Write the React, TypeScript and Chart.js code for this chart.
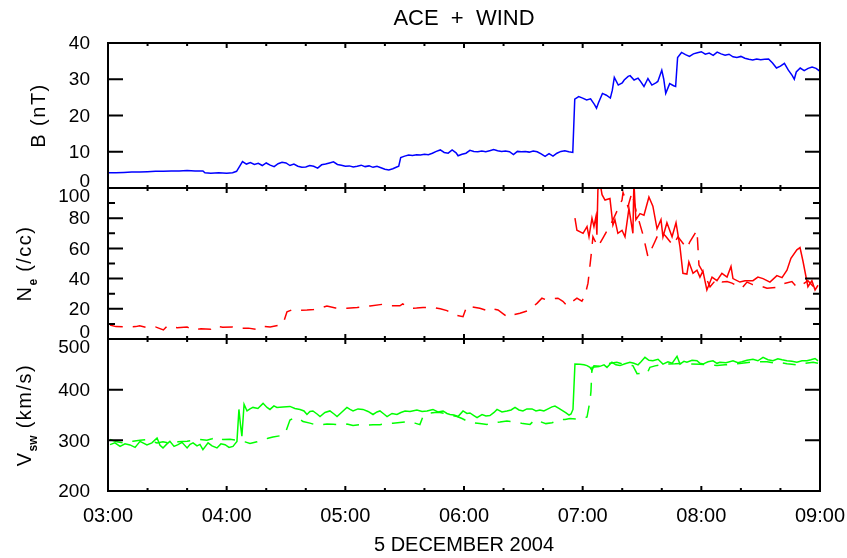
import React, { useEffect, useRef } from 'react';
import { Chart, registerables } from 'chart.js';

Chart.register(...registerables);

const FONT = '"Liberation Sans", Arial, Helvetica, sans-serif';

// Time axis: minutes after 03:00 UT, 5 December 2004
const hourLabels = ['03:00', '04:00', '05:00', '06:00', '07:00', '08:00', '09:00'];
const titleText = 'ACE  +  WIND';
const dateText = '5 DECEMBER 2004';

// B (nT) — [minute, value]
const bReadings: [number, number][] = [
  [0, 4.2], [4, 4.2], [8, 4.3], [12, 4.4], [16, 4.4], [20, 4.5], [24, 4.6], [28, 4.6], [32, 4.7], [36, 4.7],
  [40, 4.8], [44, 4.7], [48, 4.7], [49, 4.2], [52, 4.1], [56, 4.2], [60, 4.1], [63, 4.2], [65, 4.6], [67, 6.4],
  [68, 7.3], [70, 6.6], [72, 7.0], [74, 6.5], [76, 6.8], [78, 6.2], [80, 6.9], [82, 6.3], [84, 5.9], [86, 6.7],
  [88, 7.1], [90, 6.9], [92, 6.2], [94, 6.6], [96, 6.0], [98, 5.7], [100, 5.8], [102, 6.2], [104, 6.0], [106, 5.5],
  [108, 6.4], [110, 6.6], [112, 6.9], [114, 7.2], [116, 6.5], [118, 6.3], [120, 6.0], [122, 6.1], [124, 5.8], [126, 6.0],
  [128, 6.3], [130, 5.9], [132, 6.1], [134, 5.7], [136, 6.0], [138, 5.6], [140, 5.2], [142, 5.0], [144, 5.3], [146, 5.8],
  [147, 6.0], [148, 8.4], [150, 8.8], [152, 9.1], [154, 9.0], [156, 9.2], [158, 9.1], [160, 9.3], [162, 9.2], [164, 9.6],
  [166, 10.1], [168, 10.5], [170, 9.8], [172, 9.6], [174, 10.5], [176, 9.7], [177, 8.9], [179, 9.3], [181, 9.6], [183, 10.4],
  [185, 10.1], [187, 10.0], [189, 10.2], [191, 10.0], [193, 10.3], [195, 10.6], [197, 10.3], [199, 10.1], [201, 10.2], [203, 10.0],
  [205, 9.2], [207, 10.1], [209, 10.0], [211, 10.1], [213, 9.9], [215, 10.2], [217, 10.0], [219, 9.4], [221, 8.7], [223, 9.5],
  [225, 8.8], [227, 9.6], [229, 10.1], [231, 10.3], [233, 10.0], [235, 9.8], [236, 24.5], [238, 25.2], [240, 24.8], [242, 24.3],
  [244, 24.6], [246, 23.0], [247, 22.0], [248, 23.5], [250, 26.1], [252, 25.6], [254, 24.8], [255, 27.0], [256, 30.5], [258, 28.4],
  [260, 29.0], [261, 29.8], [263, 30.8], [264, 31.0], [266, 29.8], [268, 30.3], [269, 29.6], [271, 28.0], [273, 30.2], [275, 28.4],
  [277, 29.0], [278, 29.4], [280, 32.5], [281, 30.0], [282, 26.1], [284, 28.8], [286, 28.2], [287, 28.0], [288, 36.0], [290, 37.4],
  [292, 36.8], [294, 36.3], [296, 37.0], [298, 37.3], [300, 37.6], [302, 36.9], [304, 37.2], [306, 36.6], [308, 37.5], [310, 37.0],
  [312, 36.6], [314, 36.9], [316, 36.2], [318, 36.0], [320, 36.3], [322, 35.8], [324, 35.5], [326, 35.3], [328, 35.6], [330, 35.4],
  [332, 35.5], [334, 35.6], [336, 34.5], [338, 33.1], [340, 33.6], [342, 34.4], [344, 32.5], [346, 31.0], [347, 30.0], [348, 32.0],
  [350, 33.1], [352, 32.4], [354, 33.0], [356, 33.4], [358, 33.0], [360, 32.2],
];

// Ne (/cc), solid trace — [minute, value]
const neSolid: [number, number][] = [
  [236.1, 80], [237.1, 72], [240.2, 70], [242.2, 74.4], [243.2, 67.7], [244.7, 80], [245.7, 74.4], [246.7, 81], [247.2, 69],
  [247.7, 98.7], [248.7, 104], [249.8, 95.6], [251.3, 92], [253.8, 93], [255.3, 75.5], [256.3, 79], [257.8, 70], [259.9, 72],
  [261.4, 67.7], [263.4, 86.5], [265.4, 70], [265.9, 104], [266.9, 79], [269, 83], [271, 82], [273.5, 94], [275.5, 88],
  [277.6, 73], [279.6, 79], [280.6, 67.7], [282.6, 77], [285.2, 67.7], [287.2, 77], [289.2, 61], [290.7, 43.5], [292.7, 43],
  [293.7, 51], [295.8, 43.5], [297.8, 45.6], [299.3, 41], [300.8, 45], [302.8, 32.5], [305.4, 41], [307.9, 38.6], [310.4, 43.5],
  [313, 41], [315, 48], [316, 40], [319.5, 37.7], [322.1, 38.6], [326.1, 38.6], [328.6, 41], [331.2, 40], [334.7, 37.7],
  [338.2, 42], [340.8, 40.6], [343.3, 45.6], [345.3, 53.4], [348.3, 59], [349.9, 60.5], [351.4, 51.5], [353.9, 34.6],
  [355.9, 38.6], [357.5, 32.5], [359, 35.6],
];

// Ne (/cc), dashed trace — [minute, value]
const neDashed: [number, number][] = [
  [1, 9.3], [4, 8.2], [9, 8.0], [14, 8.2], [16, 8.7], [20, 7.5], [24, 8.0], [28, 6.0], [30, 8.7], [35, 7.5],
  [40, 8.0], [42.5, 6.0], [47, 6.8], [52, 6.4], [54, 8.5], [58, 7.8], [63, 8.0], [67, 7.0], [71, 7.2], [75, 6.4],
  [78, 8.5], [82, 8.0], [87, 9.3], [88.5, 10], [90.5, 18], [93.5, 19.6], [97, 19.0], [100.6, 19.2], [104, 19.5], [107, 20.3],
  [110.7, 21.9], [115, 20.5], [120.8, 20.3], [126, 20.8], [132.5, 21.9], [139, 23], [143, 22.0], [147.6, 22], [149, 23.3], [152.7, 20.3],
  [156, 20.5], [159.3, 20.8], [164.3, 21], [168, 20.0], [171.4, 18.8], [175.4, 15.9], [179.5, 14.8], [181.5, 21.9], [185, 21.0], [188, 20.3],
  [191.6, 18.8], [193.6, 20.3], [197.2, 19.2], [200, 16.5], [202.2, 14.4], [205, 16], [208.3, 17], [212.3, 18.8], [216.9, 23.6], [219.4, 27],
  [221.4, 26], [224, 26.5], [227.5, 27], [230, 25], [232.1, 22], [235, 25], [237.1, 27], [239.6, 25], [241.2, 29], [242.7, 37],
  [244.2, 54.5], [245.2, 67.7], [247.7, 61], [250.3, 67], [255, 78], [259.9, 92], [260.4, 97], [262.9, 87.6], [264.9, 97], [267, 85],
  [270.5, 69], [273, 54.5], [276.5, 64.4], [279.1, 72], [282, 68], [285.7, 62], [288.2, 67.7], [292.7, 60], [294.2, 64.4], [297.8, 72],
  [298.8, 49], [301.8, 42], [304.4, 34.6], [307.9, 40], [310.4, 37.7], [313, 38], [315.5, 37], [320.5, 33.6], [323.1, 37.7], [326, 36],
  [328.6, 35.6], [333.2, 33.6], [336, 34], [338.7, 34.3], [341.3, 36.5], [345.8, 38], [348.3, 34.3], [351, 36], [353.9, 38.6], [357.5, 33.6],
  [360, 32],
];

// Vsw (km/s), solid trace — [minute, value]
const vSolid: [number, number][] = [
  [1, 291.5], [3.5, 295], [6.1, 288], [8.6, 293], [11.1, 291], [13.7, 286], [16.2, 298], [19.7, 291], [22.2, 295], [24.8, 304.7],
  [26.3, 290], [27.8, 285], [29.8, 293], [31.3, 298], [33.4, 288], [35.4, 291.5], [37.4, 296], [40, 285], [41.5, 292], [43, 295],
  [45, 289], [46.5, 292], [48, 281.5], [50.6, 295], [52.6, 289], [55.1, 285], [57.1, 293], [59.2, 291.5], [61.2, 286], [63.2, 288],
  [64.2, 293], [65.2, 298], [66.2, 361], [67, 330], [67.7, 308], [68.8, 371], [70.3, 358], [71.8, 362], [73.3, 365], [75.8, 363],
  [78.4, 373], [80.4, 365], [81.9, 361], [83.9, 368], [85.4, 365], [88.5, 366], [92, 367], [94.5, 363], [97.1, 361], [99.1, 358],
  [100.6, 351], [102.1, 357], [103.6, 358], [105.7, 352], [107.2, 347], [109.7, 355], [112.2, 358], [114.3, 352], [115.8, 347], [118.3, 356],
  [120.8, 365], [122.4, 361], [123.9, 358], [126.4, 362], [128.9, 361], [131.5, 357], [134, 351], [136, 356], [137.5, 358], [139.5, 352],
  [141.1, 347], [143.6, 353], [146.1, 351], [148.1, 355], [150.2, 358], [152.7, 357], [156.2, 360], [158.8, 357], [161.3, 358], [164.3, 361],
  [166.8, 356], [169.4, 358], [171.4, 353], [172.9, 351], [174.9, 350], [177, 347], [179.5, 358], [181.5, 353], [183, 354], [185, 349],
  [186.6, 345], [189.1, 351], [191.1, 348], [193.1, 349], [195.2, 355], [196.7, 361], [199.2, 356], [201.7, 358], [203.8, 360], [205.8, 365],
  [207.8, 360], [209.8, 358], [211.8, 362], [214.4, 362], [216.4, 358], [218.4, 360], [220.4, 358], [222.5, 362], [224.5, 366], [226, 367.6],
  [228, 363], [230, 358], [231.6, 354], [233.1, 349.6], [234.1, 352], [235.1, 361], [236.1, 450.5], [238.6, 450], [240.7, 449], [242.2, 447.5],
  [243.7, 444], [244.7, 438], [245.7, 447], [248.7, 446], [250.8, 449], [252.3, 444], [253.8, 450], [254.8, 454], [256.8, 449], [258.9, 447.5],
  [261.4, 451], [263.9, 454], [265.9, 452], [268, 449], [269.5, 455], [271.5, 463.8], [273.5, 458], [275.5, 457], [278.1, 460], [280.6, 450.5],
  [283.1, 455], [285.2, 452], [287.7, 466], [289.2, 450.5], [291.2, 456], [292.7, 454], [295.3, 458], [297.8, 457], [299.3, 452], [300.8, 450.5],
  [303.4, 455], [305.9, 457], [307.9, 452], [309.4, 454], [312.5, 453], [316, 457], [318.5, 453], [320.5, 455], [323.1, 458], [326.1, 460],
  [328.6, 457], [331.2, 463.8], [333.7, 459], [336.2, 457], [338.7, 461], [340.8, 459], [343.3, 457], [345.8, 456], [348.3, 454], [350.9, 457],
  [353.4, 457], [355.4, 459], [357.5, 461.5], [359, 457],
];

// Vsw (km/s), dashed trace — [minute, value]
const vDashed: [number, number][] = [
  [1, 301.5], [4.5, 297], [7.6, 295], [10.1, 298], [12.6, 298], [16.2, 300], [19.7, 301.5], [22.2, 298], [24.8, 295], [27.8, 297],
  [31.3, 294], [35.4, 297], [40, 298], [43, 300], [46.5, 301.5], [50, 300], [52.6, 303], [55.1, 306.6], [58.1, 301.5], [61.7, 302],
  [66.7, 299.5], [69.3, 297], [71.8, 294], [75.3, 297], [78.4, 301.5], [80.9, 304], [83.4, 306.6], [87, 309], [89.5, 313], [92, 340],
  [94, 344.5], [96.1, 344.5], [98.6, 337], [102.1, 334], [104.7, 331], [107.2, 330.6], [110.7, 332], [113.8, 331.7], [117.3, 331], [120.8, 332],
  [123.9, 329.5], [127.4, 331], [130.9, 330], [134, 330.6], [137.5, 331], [141.1, 333], [144.1, 333.6], [147.6, 335], [150.2, 336], [152.7, 337],
  [155.2, 334], [157.7, 331], [159.3, 347.7], [161.3, 352], [162.8, 354], [165.3, 355], [167.9, 355], [170.4, 353], [172.9, 350], [176.5, 347],
  [179, 343], [181.5, 338], [184.5, 334.6], [188, 333], [191.6, 331.5], [194.7, 334.6], [198.2, 336], [201.7, 338], [204.3, 337], [206.8, 336],
  [209.8, 333], [213.4, 331.5], [215.9, 341], [218.4, 337], [221.4, 333], [224.5, 334.6], [226.5, 338], [228.5, 341], [231.1, 341], [233.6, 343],
  [237.1, 342], [239.6, 343], [242.2, 346], [243.7, 377.5], [244.2, 397], [244.7, 444], [248.7, 446], [251.3, 449], [253.8, 452], [257.3, 454],
  [259.9, 451], [262.9, 449], [265.4, 447.5], [267.5, 431.6], [270, 432], [272.5, 431.6], [274, 444], [276.6, 447], [279.1, 449], [282.6, 450.5],
  [286.7, 451], [290.7, 452], [294.3, 451], [299.3, 450], [303.4, 449], [307.9, 447.5], [312, 449], [316, 450.5], [320.5, 452], [324.6, 454],
  [328.6, 455], [333.2, 455], [336.2, 453], [339.8, 454], [343.3, 451], [345.8, 450], [348.3, 449], [352.4, 452], [356.5, 454], [359, 452],
];

type Part = { text: string; sub?: boolean };
type Panel = {
  id: string;
  labelStep: number;
  majorStep: number;
  title: Part[];
  titleX: number;
};

const panels: Panel[] = [
  { id: 'yB', labelStep: 10, majorStep: 10, title: [{ text: 'B (nT)' }], titleX: 44.5 },
  { id: 'yNe', labelStep: 20, majorStep: 20, title: [{ text: 'N' }, { text: 'e', sub: true }, { text: ' (/cc)' }], titleX: 30.5 },
  { id: 'yV', labelStep: 100, majorStep: 100, title: [{ text: 'V' }, { text: 'sw', sub: true }, { text: ' (km/s)' }], titleX: 30.5 },
];

const toPoints = (rows: [number, number][]) => rows.map(([x, y]) => ({ x, y }));

const framePlugin = {
  id: 'panelFrames',
  afterDraw(chart: any) {
    const ctx: CanvasRenderingContext2D = chart.ctx;
    const xs = chart.scales.x;
    const left = chart.chartArea.left;
    const right = chart.chartArea.right;
    ctx.save();
    ctx.strokeStyle = '#000';
    ctx.fillStyle = '#000';
    ctx.lineWidth = 2;
    panels.forEach((p, i) => {
      const s = chart.scales[p.id];
      const top = s.top;
      const bottom = s.bottom;
      ctx.strokeRect(left, top, right - left, bottom - top);
      // y ticks (inward, both sides) and labels
      ctx.font = `19px ${FONT}`;
      ctx.textAlign = 'right';
      ctx.textBaseline = 'middle';
      s.ticks.forEach((t: any) => {
        const v = t.value;
        const y = s.getPixelForValue(v);
        const isEnd = v === s.min || v === s.max;
        const major = Math.abs(v / p.majorStep - Math.round(v / p.majorStep)) < 1e-6;
        if (!isEnd) {
          const len = major ? 15 : 7;
          ctx.beginPath();
          ctx.moveTo(left, y);
          ctx.lineTo(left + len, y);
          ctx.moveTo(right, y);
          ctx.lineTo(right - len, y);
          ctx.stroke();
        }
        const labelled = Math.abs(v / p.labelStep - Math.round(v / p.labelStep)) < 1e-6;
        if (labelled) {
          let ly = y + 1;
          if (v === s.min && i < panels.length - 1) ly -= 7;
          if (v === s.max && i > 0) ly += 8;
          ctx.fillText(String(v), 90, ly);
        }
      });
      // x ticks (inward, top and bottom of each panel)
      for (let m = xs.min; m <= xs.max; m += 20) {
        const x = xs.getPixelForValue(m);
        if (m === xs.min || m === xs.max) continue;
        const len = m % 60 === 0 ? 5 : 3;
        ctx.beginPath();
        ctx.moveTo(x, top);
        ctx.lineTo(x, top + len);
        ctx.moveTo(x, bottom);
        ctx.lineTo(x, bottom - len);
        ctx.stroke();
      }
      // rotated axis title with subscripts
      const mainFont = `20px ${FONT}`;
      const subFont = `bold 12px ${FONT}`;
      const anyCtx = ctx as any;
      const spacing = '1.5px';
      let total = 0;
      const widths = p.title.map((part) => {
        ctx.font = part.sub ? subFont : mainFont;
        if ('letterSpacing' in anyCtx) anyCtx.letterSpacing = part.sub ? '0px' : spacing;
        const w = ctx.measureText(part.text).width;
        total += w;
        return w;
      });
      ctx.save();
      ctx.translate(p.titleX, (top + bottom) / 2);
      ctx.rotate(-Math.PI / 2);
      ctx.textAlign = 'left';
      ctx.textBaseline = 'alphabetic';
      let x = -total / 2;
      p.title.forEach((part, k) => {
        ctx.font = part.sub ? subFont : mainFont;
        if ('letterSpacing' in anyCtx) anyCtx.letterSpacing = part.sub ? '0px' : spacing;
        ctx.fillText(part.text, x, part.sub ? 6 : 0);
        x += widths[k];
      });
      ctx.restore();
      if ('letterSpacing' in anyCtx) anyCtx.letterSpacing = '0px';
    });
    ctx.restore();
  },
};

export default function App() {
  const ref = useRef<HTMLCanvasElement | null>(null);
  useEffect(() => {
    if (!ref.current) return;
    Chart.defaults.font.family = FONT;
    const lineBase = { pointRadius: 0, borderWidth: 1.5, fill: false, tension: 0 };
    const chart = new Chart(ref.current, {
      type: 'line',
      data: {
        datasets: [
          { ...lineBase, label: 'B', data: toPoints(bReadings), borderColor: '#0000ff', yAxisID: 'yB' },
          { ...lineBase, label: 'Ne solid', data: toPoints(neSolid), borderColor: '#ff0000', yAxisID: 'yNe' },
          { ...lineBase, label: 'Ne dashed', data: toPoints(neDashed), borderColor: '#ff0000', borderDash: [13, 10], yAxisID: 'yNe' },
          { ...lineBase, label: 'V solid', data: toPoints(vSolid), borderColor: '#00ff00', yAxisID: 'yV' },
          { ...lineBase, label: 'V dashed', data: toPoints(vDashed), borderColor: '#00ff00', borderDash: [13, 10], yAxisID: 'yV' },
        ],
      },
      options: {
        responsive: true,
        maintainAspectRatio: false,
        animation: false,
        events: [],
        layout: { padding: { left: 0, right: 27, top: 0, bottom: 0 } },
        plugins: {
          legend: { display: false },
          tooltip: { enabled: false },
          title: {
            display: true,
            fullSize: false,
            text: titleText,
            color: '#000',
            font: { size: 22, family: FONT, weight: 'normal' },
            padding: { top: 6, bottom: 10.6 },
          },
        },
        scales: {
          x: {
            type: 'linear',
            position: 'bottom',
            min: 0,
            max: 360,
            afterFit: (s: any) => { s.height = 67; s.paddingRight = 0; s.paddingLeft = 0; },
            grid: { display: false, drawTicks: false },
            border: { display: false },
            ticks: {
              stepSize: 60,
              autoSkip: false,
              maxRotation: 0,
              padding: 13.5,
              color: '#000',
              font: { size: 20, family: FONT },
              callback: (v: any) => hourLabels[Math.round(Number(v) / 60)] ?? '',
            },
            title: {
              display: true,
              text: dateText,
              color: '#000',
              font: { size: 20, family: FONT },
              padding: { top: 0, bottom: 0.5 },
            },
          },
          yV: {
            type: 'linear',
            position: 'left',
            stack: 'panels',
            stackWeight: 152,
            min: 200,
            max: 500,
            afterFit: (s: any) => { s.width = 108; },
            ticks: { display: false, stepSize: 100 },
            grid: { display: false },
            border: { display: false },
          },
          yNe: {
            type: 'linear',
            position: 'left',
            stack: 'panels',
            stackWeight: 151,
            min: 0,
            max: 100,
            afterFit: (s: any) => { s.width = 108; },
            ticks: { display: false, stepSize: 10 },
            grid: { display: false },
            border: { display: false },
          },
          yB: {
            type: 'linear',
            position: 'left',
            stack: 'panels',
            stackWeight: 145,
            min: 0,
            max: 40,
            afterFit: (s: any) => { s.width = 108; },
            ticks: { display: false, stepSize: 10 },
            grid: { display: false },
            border: { display: false },
          },
        },
      } as any,
      plugins: [framePlugin],
    });
    return () => chart.destroy();
  }, []);
  return (
    <div style={{ position: 'fixed', left: 0, top: 0, width: 847, height: 558, background: '#fff' }}>
      <canvas ref={ref} />
    </div>
  );
}
